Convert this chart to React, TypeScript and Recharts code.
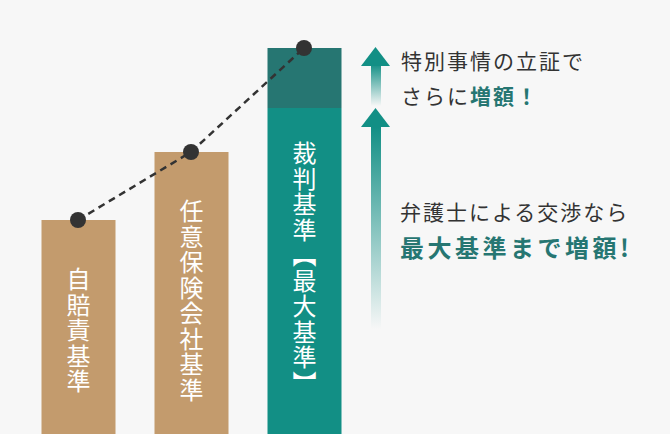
import React from 'react';
import { ComposedChart, Bar, Line, XAxis, YAxis, Cell, LabelList } from 'recharts';

// values (px-equivalent units, baseline at the bottom edge)
const categories = ['自賠責基準', '任意保険会社基準', '裁判基準【最大基準】'];
const baseValues = [214, 282, 326];
const extraValues = [0, 0, 60];
const totalValues = [214, 282, 386];
const barColors = ['#c39b6d', '#c39b6d', '#128f85'];

const data = categories.map((name, i) => ({
  name,
  base: baseValues[i],
  extra: extraValues[i],
  total: totalValues[i],
}));

const FONT = '"Noto Sans CJK JP", "Noto Sans", sans-serif';
const TEAL = '#128f85';
const DARK_TEAL = '#267672';

// one vertical text per bar, starting a fixed distance below the segment top
function VerticalLabel(props: any) {
  const { x, y, width, index } = props;
  const offset = index === 2 ? 33 : 47;
  return (
    <text
      x={x + width / 2}
      y={y + offset}
      fill="#ffffff"
      fontSize={24}
      fontFamily={FONT}
      style={{ writingMode: 'vertical-rl', letterSpacing: 1.5 }}
    >
      {categories[index]}
    </text>
  );
}

function Arrows() {
  return (
    <svg
      width={670}
      height={434}
      style={{ position: 'absolute', left: 0, top: 0, pointerEvents: 'none' }}
    >
      <defs>
        <linearGradient id="fadeA" x1="0" y1="0" x2="0" y2="1">
          <stop offset="0%" stopColor={TEAL} stopOpacity={0.95} />
          <stop offset="100%" stopColor={TEAL} stopOpacity={0} />
        </linearGradient>
        <linearGradient id="fadeB" x1="0" y1="0" x2="0" y2="1">
          <stop offset="0%" stopColor={TEAL} stopOpacity={1} />
          <stop offset="100%" stopColor={TEAL} stopOpacity={0} />
        </linearGradient>
      </defs>
      <polygon points="361,66 375.5,47 390,66" fill={TEAL} />
      <rect x={371} y={66} width={10} height={40} fill="url(#fadeA)" />
      <polygon points="361,127 375.5,108 390,127" fill={TEAL} />
      <rect x={371} y={127} width={10} height={202} fill="url(#fadeB)" />
    </svg>
  );
}

export default function App() {
  return (
    <div
      style={{
        position: 'absolute',
        left: 0,
        top: 0,
        width: 670,
        height: 434,
        background: '#f7f7f7',
        overflow: 'hidden',
        fontFamily: FONT,
      }}
    >
      <ComposedChart
        width={670}
        height={434}
        data={data}
        margin={{ top: 0, right: 309.5, left: 21.5, bottom: 0 }}
      >
        <XAxis dataKey="name" hide />
        <YAxis hide domain={[0, 434]} />
        <Bar dataKey="base" stackId="a" barSize={74} isAnimationActive={false}>
          {data.map((d, i) => (
            <Cell key={d.name} fill={barColors[i]} />
          ))}
          <LabelList dataKey="name" content={<VerticalLabel />} />
        </Bar>
        <Bar dataKey="extra" stackId="a" barSize={74} fill={DARK_TEAL} isAnimationActive={false} />
        <Line
          type="linear"
          dataKey="total"
          stroke="#333333"
          strokeWidth={2.5}
          strokeDasharray="7 5"
          dot={{ r: 8, fill: '#333333', stroke: 'none' }}
          activeDot={false}
          isAnimationActive={false}
        />
      </ComposedChart>
      <Arrows />
      <div style={{ position: 'absolute', left: 401, top: 50, fontSize: 21, lineHeight: '21px', letterSpacing: 2, color: '#333' }}>
        特別事情の立証で
      </div>
      <div style={{ position: 'absolute', left: 401, top: 85, fontSize: 21, lineHeight: '21px', letterSpacing: 2, color: '#333' }}>
        さらに<span style={{ color: DARK_TEAL, fontWeight: 700 }}>増額！</span>
      </div>
      <div style={{ position: 'absolute', left: 400, top: 201, fontSize: 21, lineHeight: '21px', letterSpacing: 2, color: '#333' }}>
        弁護士による交渉なら
      </div>
      <div style={{ position: 'absolute', left: 400, top: 235, fontSize: 24, lineHeight: '24px', letterSpacing: 3.5, color: DARK_TEAL, fontWeight: 700 }}>
        最大基準まで増額!
      </div>
    </div>
  );
}
